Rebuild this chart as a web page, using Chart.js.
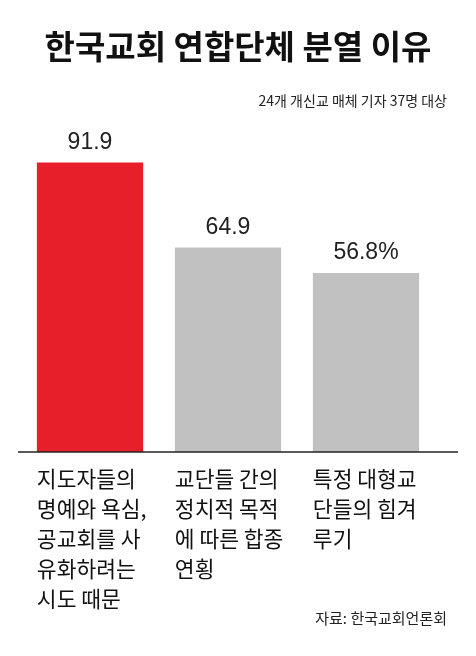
<!DOCTYPE html><html><head><meta charset="utf-8">
<script src="https://cdn.jsdelivr.net/npm/chart.js@4"></script>
<style>html,body{margin:0;padding:0;background:#fff}#w{width:476px;height:656px}</style></head><body>
<div id="w"><canvas id="c"></canvas></div>
<script>
const categories=[["지도자들의","명예와 욕심,","공교회를 사","유화하려는","시도 때문"],["교단들 간의","정치적 목적","에 따른 합종","연횡"],["특정 대형교","단들의 힘겨","루기"]];
const values=[91.9,64.9,56.8];
const valueLabels=["91.9","64.9","56.8%"];
const colors=["#e61f2b","#c1c1c2","#c1c1c2"];
const title="한국교회 연합단체 분열 이유";
const subtitle="24개 개신교 매체 기자 37명 대상";
const source="자료: 한국교회언론회";
const KR='"Noto Sans CJK KR","Noto Sans",sans-serif';
const deco={id:'deco',afterDraw(ch){
 const c=ch.ctx,x=ch.scales.x,y=ch.scales.y,meta=ch.getDatasetMeta(0);
 c.save();c.fillStyle='#111';
 c.font='bold 33px '+KR;c.textAlign='center';c.textBaseline='middle';c.fillText(title,238,46);
 c.font='14px '+KR;c.textAlign='right';c.fillStyle='#222';c.fillText(subtitle,447,101);
 const y0=y.getPixelForValue(0);
 c.strokeStyle='#222';c.lineWidth=1.5;c.beginPath();c.moveTo(18,y0);c.lineTo(458,y0);c.stroke();
 meta.data.forEach((b,i)=>{
  c.fillStyle='#222';c.textAlign='center';c.textBaseline='alphabetic';
  c.font='23px "Liberation Sans Narrow","Liberation Sans",sans-serif';
  c.fillText(valueLabels[i],b.x,b.y-14);
  const left=b.x-b.width/2;
  c.textAlign='left';c.textBaseline='middle';c.font='21.5px '+KR;c.fillStyle='#111';
  categories[i].forEach((l,j)=>c.fillText(l,left,y0+27+j*30));
 });
 c.textAlign='right';c.font='15px '+KR;c.fillStyle='#222';c.fillText(source,447,618);
 c.restore();}};
new Chart(document.getElementById('c'),{type:'bar',
 data:{labels:categories.map(c=>c.join(' ')),datasets:[{data:values,backgroundColor:colors,barPercentage:0.77,categoryPercentage:1}]},
 options:{responsive:true,maintainAspectRatio:false,animation:false,devicePixelRatio:1,
  layout:{padding:{left:21,right:41,top:137,bottom:204}},
  plugins:{legend:{display:false},tooltip:{enabled:false}},
  scales:{x:{display:false},y:{display:false,min:0,max:100}}},
 plugins:[deco]});
</script></body></html>
